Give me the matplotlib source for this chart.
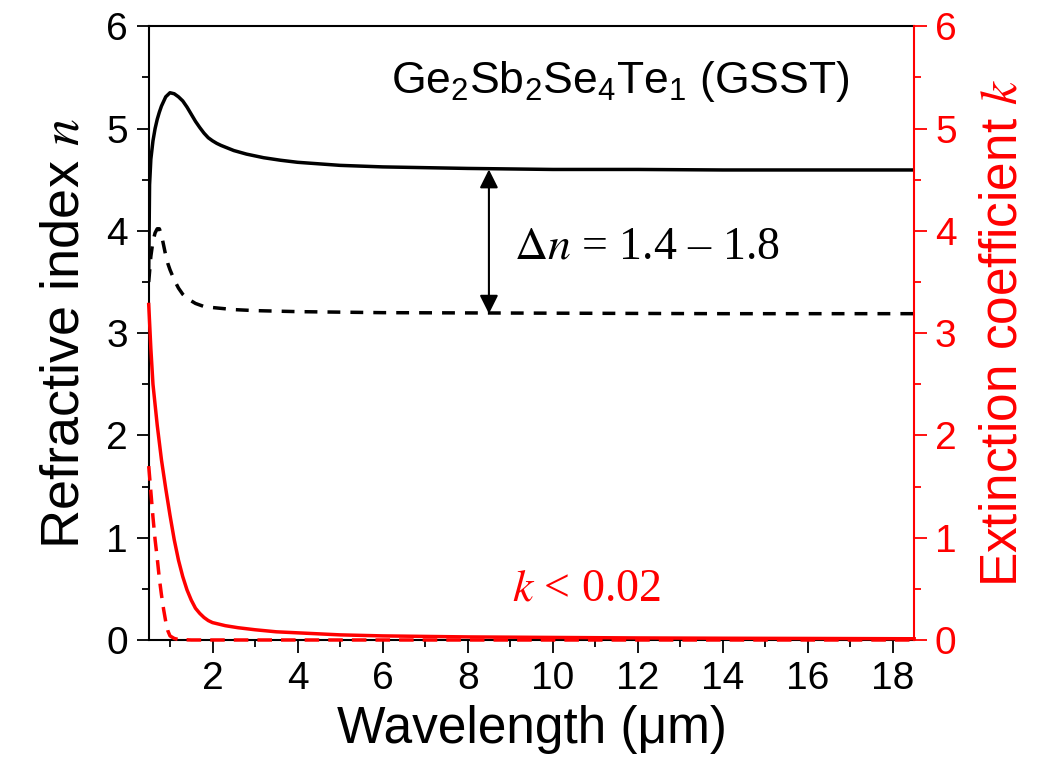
import numpy as np
import matplotlib
matplotlib.use('Agg')
import matplotlib.pyplot as plt

plt.rcParams['font.family'] = ['Liberation Sans', 'DejaVu Sans']
plt.rcParams['mathtext.fontset'] = 'custom'
plt.rcParams['mathtext.rm'] = 'Liberation Sans'
plt.rcParams['mathtext.it'] = 'Liberation Sans:italic'

# crystalline GSST, refractive index n
wl_nc = [0.5, 0.52, 0.55, 0.6, 0.65, 0.7, 0.75, 0.8, 0.9, 1.0, 1.1, 1.2, 1.3, 1.4,
         1.5, 1.6, 1.7, 1.8, 1.9, 2.0, 2.1, 2.2, 2.5, 2.8, 3.2, 3.6, 4.0, 5.0, 6.0, 8.0,
         10.0, 12.0, 14.0, 16.0, 18.5]
n_cryst = [3.6, 4.45, 4.7, 4.88, 5.0, 5.09, 5.16, 5.22, 5.31, 5.35, 5.34, 5.31, 5.27, 5.21,
           5.14, 5.07, 5.01, 4.955, 4.91, 4.88, 4.855, 4.835, 4.785, 4.75, 4.715, 4.69, 4.67, 4.64, 4.625, 4.61,
           4.60, 4.60, 4.595, 4.595, 4.595]

# amorphous GSST, refractive index n
wl_na = [0.5, 0.55, 0.6, 0.65, 0.7, 0.75, 0.8, 0.85, 0.9, 0.95, 1.0, 1.1, 1.2, 1.3,
         1.4, 1.6, 1.8, 2.0, 2.5, 3.0, 4.0, 6.0, 10.0, 14.0, 18.5]
n_amor = [3.5, 3.75, 3.9, 3.98, 4.02, 4.02, 3.96, 3.86, 3.76, 3.68, 3.62, 3.52, 3.44, 3.38,
          3.34, 3.29, 3.26, 3.25, 3.23, 3.22, 3.21, 3.20, 3.195, 3.19, 3.19]

# crystalline GSST, extinction coefficient k
wl_kc = [0.5, 0.55, 0.6, 0.7, 0.8, 0.9, 1.0, 1.1, 1.2, 1.3, 1.4, 1.5, 1.6, 1.7, 1.8,
         1.9, 2.0, 2.3, 2.6, 3.0, 3.5, 4.0, 5.0, 6.0, 8.0, 10.0, 12.0, 14.0, 16.0, 18.5]
k_cryst = [3.28, 2.85, 2.5, 2.1, 1.76, 1.48, 1.22, 0.98, 0.78, 0.62, 0.49, 0.39, 0.31, 0.26, 0.22,
           0.19, 0.17, 0.14, 0.12, 0.10, 0.08, 0.07, 0.05, 0.04, 0.03, 0.025, 0.02, 0.017, 0.015, 0.012]

# amorphous GSST, extinction coefficient k
wl_ka = [0.5, 0.55, 0.6, 0.65, 0.7, 0.75, 0.8, 0.85, 0.9, 0.95, 1.0, 1.1, 1.2, 1.5, 18.5]
k_amor = [1.7, 1.45, 1.2, 0.98, 0.8, 0.6, 0.44, 0.3, 0.18, 0.09, 0.04, 0.015, 0.005, 0.0, 0.0]

dn_at = 8.5
n_hi, n_lo = 4.6, 3.19

fig = plt.figure(figsize=(10.4, 7.72), dpi=100)
ax = fig.add_axes([0.143, 0.171, 0.736, 0.795])
ax2 = ax.twinx()

lw = 2.5
ax.plot(wl_nc, n_cryst, color='black', lw=lw)
ax.plot(wl_na, n_amor, color='black', lw=lw, dashes=(3.7, 2.9))
ax2.plot(wl_kc, k_cryst, color='red', lw=lw, clip_on=False)
ax2.plot(wl_ka, k_amor, color='red', lw=lw, dashes=(4.2, 2.6), clip_on=False)

for a in (ax, ax2):
    a.set_xlim(0.5, 18.5)
    a.set_ylim(0, 6)

ax.set_xticks(np.arange(2, 19, 2))
ax.set_xticks(np.arange(1, 19, 1), minor=True)
ax.set_yticks(np.arange(0, 7, 1))
ax.set_yticks(np.arange(0, 6.1, 0.5), minor=True)
ax2.set_yticks(np.arange(0, 7, 1))
ax2.set_yticks(np.arange(0, 6.1, 0.5), minor=True)

ax.tick_params(which='major', direction='out', length=9, width=1.3, labelsize=28, pad=6)
ax.tick_params(which='minor', direction='out', length=5, width=1.3)
ax.tick_params(axis='y', right=False, which='both')
ax2.tick_params(which='major', direction='out', length=9, width=1.3, labelsize=28,
                colors='red', pad=6)
ax2.tick_params(which='minor', direction='out', length=5, width=1.3, colors='red')

for s in ('left', 'bottom', 'top'):
    ax.spines[s].set_linewidth(1.5)
ax.spines['right'].set_visible(False)
for s in ('left', 'bottom', 'top'):
    ax2.spines[s].set_visible(False)
ax2.spines['right'].set_color('red')
ax2.spines['right'].set_linewidth(1.5)

ax.set_xlabel(r'Wavelength (μm)', fontsize=37, labelpad=6)
ax.set_ylabel(r'Refractive index $n$', fontsize=39, labelpad=12, math_fontfamily='stix')
ax2.set_ylabel(r'Extinction coefficient $k$', fontsize=37, color='red', labelpad=16,
               math_fontfamily='stix')

ax.text(6.2, 5.35, r'Ge$_2$Sb$_2$Se$_4$Te$_1$ (GSST)', fontsize=32, va='baseline')
ax.text(9.1, 3.73, r'$\Delta n$ = 1.4 – 1.8', fontsize=33, va='baseline',
        family='Liberation Serif', math_fontfamily='stix')
ax.text(9.05, 0.39, r'$k$ < 0.02', fontsize=33, va='baseline', color='red',
        family='Liberation Serif', math_fontfamily='stix')

ax.annotate('', xy=(dn_at, n_hi), xytext=(dn_at, n_lo),
            arrowprops=dict(arrowstyle='<|-|>', color='black', lw=1.5,
                            mutation_scale=28, shrinkA=0, shrinkB=0))

fig.savefig('out.png', dpi=100)
